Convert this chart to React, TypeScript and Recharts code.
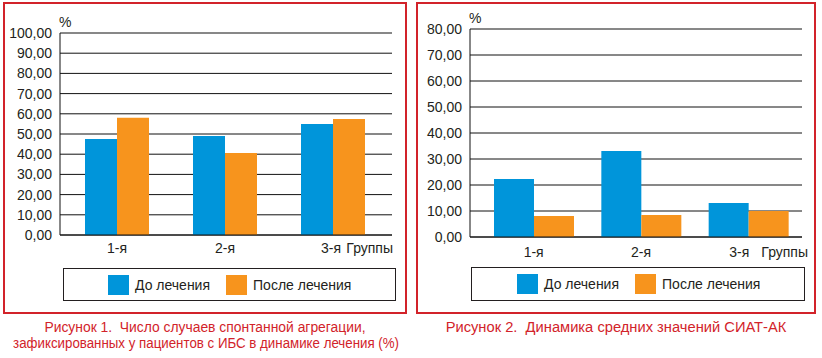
import { BarChart, Bar, XAxis, YAxis, CartesianGrid, Legend, Label } from 'recharts'

const groups = ['1-я', '2-я', '3-я']
const seriesNames = ['До лечения', 'После лечения']
const seriesColors = ['#0095da', '#f7941d']

// Рисунок 1 — aggregation cases, %
const aggregationBefore = [47.5, 49.0, 55.0]
const aggregationAfter = [58.0, 40.6, 57.4]
const aggregationTicks = [0, 10, 20, 30, 40, 50, 60, 70, 80, 90, 100]

// Рисунок 2 — SIAT-AK
const siatBefore = [22.3, 33.1, 13.1]
const siatAfter = [8.1, 8.5, 10.0]
const siatTicks = [0, 10, 20, 30, 40, 50, 60, 70, 80]

const unitLabel = '%'
const groupsTitle = 'Группы'
const caption1 = ['Рисунок 1.  Число случаев спонтанной агрегации,', 'зафиксированных у пациентов с ИБС в динамике лечения (%)']
const caption2 = ['Рисунок 2.  Динамика средних значений СИАТ-АК']

const FONT = '"Liberation Sans", Arial, sans-serif'
const INK = '#231f20'
const RED = '#d2232a'

const fmt = (v: number) => v.toFixed(2).replace('.', ',')

function toRows(before: number[], after: number[]) {
  return groups.map((g, i) => ({ group: g, before: before[i], after: after[i] }))
}

function LegendBox({ swatchLeft }: { swatchLeft: number }) {
  return (
    <div
      style={{
        width: '100%',
        height: '100%',
        boxSizing: 'border-box',
        border: `1px solid ${INK}`,
        display: 'flex',
        alignItems: 'center',
        paddingLeft: swatchLeft,
        fontFamily: FONT,
        fontSize: 14,
        color: INK,
      }}
    >
      {seriesNames.map((name, i) => (
        <div key={name} style={{ display: 'flex', alignItems: 'center', marginRight: 16 }}>
          <div style={{ width: 21, height: 20, background: seriesColors[i], marginRight: 6 }} />
          <span>{name}</span>
        </div>
      ))}
    </div>
  )
}

interface PanelProps {
  before: number[]
  after: number[]
  ticks: number[]
  width: number
  top: number
  right: number
  bottom: number
  barSize: number
  padding: { left: number; right: number }
  tickMargin: number
  groupsDx: number
  lastTickDx: number
  legend: { left: number; top: number; width: number; height: number; swatch: number }
}

function Panel(p: PanelProps) {
  const data = toRows(p.before, p.after)
  const max = p.ticks[p.ticks.length - 1]
  const renderTick = ({ x, y, payload, index }: any) => (
    <text
      x={x + (index === groups.length - 1 ? p.lastTickDx : 0)}
      y={y}
      dy="0.71em"
      textAnchor="middle"
      fill={INK}
      fontSize={14}
      fontFamily={FONT}
    >
      {payload.value}
    </text>
  )
  return (
    <BarChart
      width={p.width}
      height={315}
      data={data}
      margin={{ top: p.top, right: p.right, bottom: p.bottom, left: 0 }}
      barGap={0}
      barSize={p.barSize}
    >
      <CartesianGrid vertical={false} stroke="#111" strokeWidth={1} />
      <XAxis
        dataKey="group"
        height={30}
        padding={p.padding}
        axisLine={{ stroke: '#111' }}
        tickLine={false}
        tickSize={0}
        tickMargin={p.tickMargin}
        tick={renderTick}
      >
        <Label
          content={({ viewBox }: any) => (
            <text
              x={viewBox.x + viewBox.width + p.groupsDx}
              y={viewBox.y + p.tickMargin + 10}
              textAnchor="end"
              fill={INK}
              fontSize={14}
              fontFamily={FONT}
            >
              {groupsTitle}
            </text>
          )}
        />
      </XAxis>
      <YAxis
        width={60}
        domain={[0, max]}
        ticks={p.ticks}
        interval={0}
        tickFormatter={fmt}
        axisLine={{ stroke: '#111' }}
        tickLine={false}
        tickSize={0}
        tickMargin={8}
        tick={{ fill: INK, fontSize: 14, fontFamily: FONT }}
      >
        <Label
          content={({ viewBox }: any) => (
            <text x={viewBox.x + viewBox.width - 1} y={p.top - 6} fill={INK} fontSize={14} fontFamily={FONT}>
              {unitLabel}
            </text>
          )}
        />
      </YAxis>
      <Legend
        verticalAlign="middle"
        content={() => <LegendBox swatchLeft={p.legend.swatch} />}
        wrapperStyle={{ left: p.legend.left, top: p.legend.top, width: p.legend.width, height: p.legend.height }}
      />
      <Bar dataKey="before" name={seriesNames[0]} fill={seriesColors[0]} isAnimationActive={false} />
      <Bar dataKey="after" name={seriesNames[1]} fill={seriesColors[1]} isAnimationActive={false} />
    </BarChart>
  )
}

function Caption({ lines, left, width, scales }: { lines: string[]; left: number; width: number; scales: number[] }) {
  return (
    <div
      style={{
        position: 'absolute',
        left,
        top: 319,
        width,
        textAlign: 'center',
        fontFamily: FONT,
        fontSize: 14,
        lineHeight: '16px',
        color: RED,
        whiteSpace: 'pre',
      }}
    >
      {lines.map((l, i) => (
        <div key={l} style={{ transform: `scaleX(${scales[i]})`, transformOrigin: 'center' }}>
          {l}
        </div>
      ))}
    </div>
  )
}

export default function App() {
  return (
    <div style={{ position: 'absolute', left: 0, top: 0, width: 822, height: 358, background: '#fff', overflow: 'hidden' }}>
      <div style={{ position: 'absolute', left: 3, top: 2, width: 404, height: 312, boxSizing: 'border-box', border: `2px solid ${RED}` }} />
      <div style={{ position: 'absolute', left: 416, top: 2, width: 400, height: 312, boxSizing: 'border-box', border: `2px solid ${RED}` }} />
      <div style={{ position: 'absolute', left: 0, top: 0 }}>
        <Panel
          before={aggregationBefore}
          after={aggregationAfter}
          ticks={aggregationTicks}
          width={410}
          top={33}
          right={18}
          bottom={50}
          barSize={32}
          padding={{ left: 3, right: 5 }}
          tickMargin={8}
          groupsDx={1}
          lastTickDx={-2}
          legend={{ left: 63, top: 268, width: 333, height: 33, swatch: 44 }}
        />
      </div>
      <div style={{ position: 'absolute', left: 410, top: 0 }}>
        <Panel
          before={siatBefore}
          after={siatAfter}
          ticks={siatTicks}
          width={412}
          top={29}
          right={20}
          bottom={48}
          barSize={40}
          padding={{ left: 10, right: 0 }}
          tickMargin={10}
          groupsDx={6}
          lastTickDx={-9}
          legend={{ left: 61, top: 267, width: 334, height: 34, swatch: 45 }}
        />
      </div>
      <Caption lines={caption1} left={3} width={404} scales={[0.99, 0.95]} />
      <Caption lines={caption2} left={416} width={400} scales={[1.05]} />
    </div>
  )
}
